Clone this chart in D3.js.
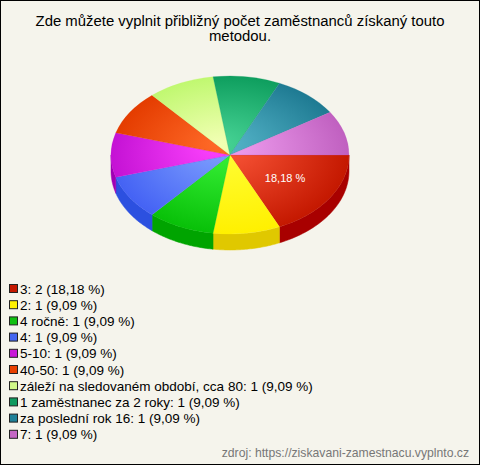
<!DOCTYPE html>
<html><head><meta charset="utf-8">
<script src="https://cdn.jsdelivr.net/npm/d3@7"></script>
<style>
html,body{margin:0;padding:0;background:#fff;}
svg{display:block;font-family:Arial,"Liberation Sans",sans-serif;}
</style></head>
<body>
<svg id="c" width="480" height="465"></svg>
<script>
const titleLines = ["Zde můžete vyplnit přibližný počet zaměstnanců získaný touto", "metodou."];
const categories = ["3", "2", "4 ročně", "4", "5-10", "40-50", "záleží na sledovaném období, cca 80", "1 zaměstnanec za 2 roky", "za poslední rok 16", "7"];
const values = [2, 1, 1, 1, 1, 1, 1, 1, 1, 1];
const topLight = ["#ff5c3e", "#ffff3a", "#3cf53c", "#82a4ff", "#ff44ff", "#ff6a28", "#f2ffb4", "#48d496", "#58b8cc", "#f4a4f4"];
const topDark  = ["#c41800", "#fff000", "#08c008", "#4462f4", "#c412d4", "#e43c00", "#c0f870", "#0e9e5e", "#1e7a92", "#c060c0"];
const sideCol  = ["#a80000", "#e0c800", "#00a400", "#2c50e0", "#a000b4", "#c03000", "#a0d060", "#08804a", "#186478", "#a04ca0"];
const legendCol = ["#c41800", "#fff000", "#10c010", "#4466f0", "#c818d8", "#e84000", "#d0f888", "#109a60", "#1e8098", "#c466c4"];
const sourceText = "zdroj: https://ziskavani-zamestnacu.vyplnto.cz";

const svg = d3.select("#c");
svg.append("rect").attr("x",0.5).attr("y",0.5).attr("width",479).attr("height",464)
  .attr("fill","#f5f4ec").attr("stroke","#000");

svg.append("text").attr("x",240).attr("text-anchor","middle")
  .attr("font-size",14.9).attr("fill","#000")
  .selectAll("tspan").data(titleLines).join("tspan")
  .attr("x",240).attr("y",(d,i)=>25.5+i*15.5).text(d=>d);

const cx=230, cy=155, rx=119, ry=79, depth=16;
const total = d3.sum(values);
const fmt = v => d3.format(".2f")(v).replace(".", ",");
const pie = d3.pie().sort(null).value(d=>d).startAngle(Math.PI/2).endAngle(Math.PI/2+2*Math.PI);
const arcs = pie(values);

const defs = svg.append("defs");
arcs.forEach((a,i)=>{
  const g = defs.append("radialGradient").attr("id","g"+i)
    .attr("gradientUnits","userSpaceOnUse").attr("cx",0).attr("cy",0).attr("r",rx)
    .attr("fx",-rx*0.1).attr("fy",-rx*0.15);
  g.append("stop").attr("offset","0%").attr("stop-color",topLight[i]);
  g.append("stop").attr("offset","100%").attr("stop-color",topDark[i]);
});

// sides (front half)
const sideG = svg.append("g");
arcs.forEach((a,i)=>{
  let t0 = a.startAngle - Math.PI/2, t1 = a.endAngle - Math.PI/2;
  const s = Math.max(t0, 0), e = Math.min(t1, Math.PI);
  if (e <= s) return;
  const n = 40, pts = [];
  for (let k=0;k<=n;k++){ const t=s+(e-s)*k/n; pts.push([cx+rx*Math.cos(t), cy+ry*Math.sin(t)]); }
  for (let k=n;k>=0;k--){ const t=s+(e-s)*k/n; pts.push([cx+rx*Math.cos(t), cy+ry*Math.sin(t)+depth]); }
  sideG.append("path").attr("d", d3.line()(pts)+"Z").attr("fill", sideCol[i]).attr("stroke",sideCol[i]).attr("stroke-width",0.5);
});

// top surface
const arc = d3.arc().innerRadius(0).outerRadius(rx);
const topG = svg.append("g").attr("transform",`translate(${cx},${cy}) scale(1,${ry/rx})`);
topG.selectAll("path").data(arcs).join("path")
  .attr("d", arc).attr("fill",(d,i)=>`url(#g${i})`)
  .attr("stroke",(d,i)=>topDark[i]).attr("stroke-width",0.3);

// labels (only large slices)
arcs.forEach((a,i)=>{
  const p = values[i]/total*100;
  if (p < 15) return;
  const mid = (a.startAngle+a.endAngle)/2 - Math.PI/2;
  const f = 0.55;
  svg.append("text").attr("x", cx+rx*f*Math.cos(mid)).attr("y", cy+ry*f*Math.sin(mid)+4)
    .attr("text-anchor","middle").attr("font-size",11).attr("fill","#fff")
    .text(fmt(p)+" %");
});

// legend
const leg = svg.append("g");
categories.forEach((c,i)=>{
  const y = 289 + i*16.2;
  leg.append("rect").attr("x",9.5).attr("y",y-4.5).attr("width",8).attr("height",8)
    .attr("fill",legendCol[i]).attr("stroke","#222").attr("stroke-width",1);
  leg.append("text").attr("x",20).attr("y",y+4.5).attr("font-size",13.5).attr("fill","#000")
    .text(`${c}: ${values[i]} (${fmt(values[i]/total*100)} %)`);
});

svg.append("text").attr("x",469).attr("y",457).attr("text-anchor","end")
  .attr("font-size",12.2).attr("fill","#777").text(sourceText);
</script>
</body></html>
